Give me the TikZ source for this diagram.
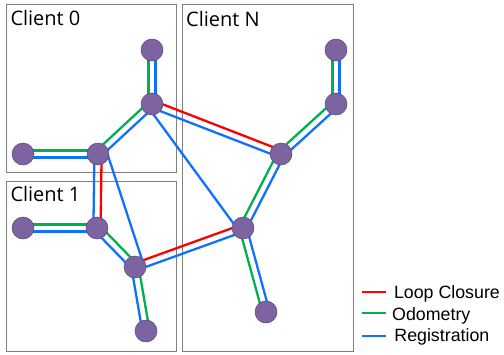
\documentclass[tikz,border=0pt]{standalone}
\usepackage{fontspec}
\setmainfont{Open Sans}
\newfontfamily\legendfont{Liberation Sans}
\usetikzlibrary{calc,backgrounds}
\definecolor{nodefill}{HTML}{7D64A0}
\definecolor{nodeline}{HTML}{5A4578}
\definecolor{lred}{HTML}{FF0000}
\definecolor{lgrn}{HTML}{00B050}
\definecolor{lblu}{HTML}{1070FF}
\definecolor{boxgray}{HTML}{808080}
\tikzset{
  vtx/.style={circle,fill=nodefill,draw=nodeline,line width=0.5pt,minimum size=22pt,inner sep=0pt},
  clientbox/.style={draw=boxgray,line width=1pt},
  clientlabel/.style={anchor=base west,inner sep=0pt,font=\fontsize{20}{24}\selectfont},
  legendlabel/.style={anchor=base west,inner sep=0pt,font=\legendfont\fontsize{17.8}{20}\selectfont},
  edge/.style={line width=2.3pt},
  red edge/.style={edge,draw=lred},
  grn edge/.style={edge,draw=lgrn},
  blu edge/.style={edge,draw=lblu},
}
\newcommand\off{3.6pt}
% #1 from, #2 to, #3 style on the left of travel, #4 style on the right
\newcommand\duo[4]{%
  \draw[#3] ($(#1)!\off!90:(#2)$) -- ($(#2)!\off!-90:(#1)$);
  \draw[#4] ($(#1)!\off!-90:(#2)$) -- ($(#2)!\off!90:(#1)$);}
\begin{document}
\begin{tikzpicture}[x=1pt,y=-1pt]
\useasboundingbox (0,0) rectangle (504,354);
\node[clientlabel] (l0) at (10.3,25) {Client 0};
\node[clientlabel] (l1) at (10.3,201.5) {Client 1};
\node[clientlabel] (lN) at (186,26) {Client N};
% nodes
\node[vtx] (A1) at (152,50) {};
\node[vtx] (A2) at (152,104) {};
\node[vtx] (A3) at (23,154) {};
\node[vtx] (A4) at (98,154) {};
\node[vtx] (B1) at (23,228) {};
\node[vtx] (B2) at (97,228) {};
\node[vtx] (B3) at (135,267) {};
\node[vtx] (B4) at (146,331) {};
\node[vtx] (N1) at (336,50) {};
\node[vtx] (N2) at (336,104) {};
\node[vtx] (N3) at (281,154) {};
\node[vtx] (N4) at (243,228) {};
\node[vtx] (N5) at (266,312) {};
\begin{scope}[on background layer]
% client boxes
\draw[clientbox] (6,4) rectangle (176,172);
\draw[clientbox] (6,181) rectangle (176,351);
\draw[clientbox] (182.5,4) rectangle (353,351);
% edges
\duo{A1}{A2}{blu edge}{grn edge}
\duo{A2}{A4}{blu edge}{grn edge}
\duo{A4}{A3}{blu edge}{grn edge}
\duo{A4}{B2}{red edge}{blu edge}
\draw[blu edge] ($(A4)!9pt!90:(B3)$) -- ($(B3)!9pt!-90:(A4)$);
\duo{B1}{B2}{grn edge}{blu edge}
\duo{B2}{B3}{grn edge}{blu edge}
\duo{B3}{B4}{grn edge}{blu edge}
\duo{B3}{N4}{red edge}{blu edge}
\duo{A2}{N3}{red edge}{blu edge}
\draw[blu edge] ($(A2)!5pt!-90:(N4)$) -- ($(N4)!5pt!90:(A2)$);
\duo{N1}{N2}{blu edge}{grn edge}
\duo{N2}{N3}{blu edge}{grn edge}
\duo{N3}{N4}{blu edge}{grn edge}
\duo{N4}{N5}{blu edge}{grn edge}
\end{scope}
% legend
\coordinate (r0) at (362,292); \coordinate (r1) at (386,292);
\coordinate (g0) at (362,313); \coordinate (g1) at (386,313);
\coordinate (b0) at (362,336); \coordinate (b1) at (386,336);
\draw[red edge] (r0) -- (r1);
\draw[grn edge] (g0) -- (g1);
\draw[blu edge] (b0) -- (b1);
\node[legendlabel] (tr) at (393.8,298.2) {Loop Closure};
\node[legendlabel] (tg) at (392,320) {Odometry};
\node[legendlabel] (tb) at (394.2,341.7) {Registration};
\end{tikzpicture}
\end{document}
